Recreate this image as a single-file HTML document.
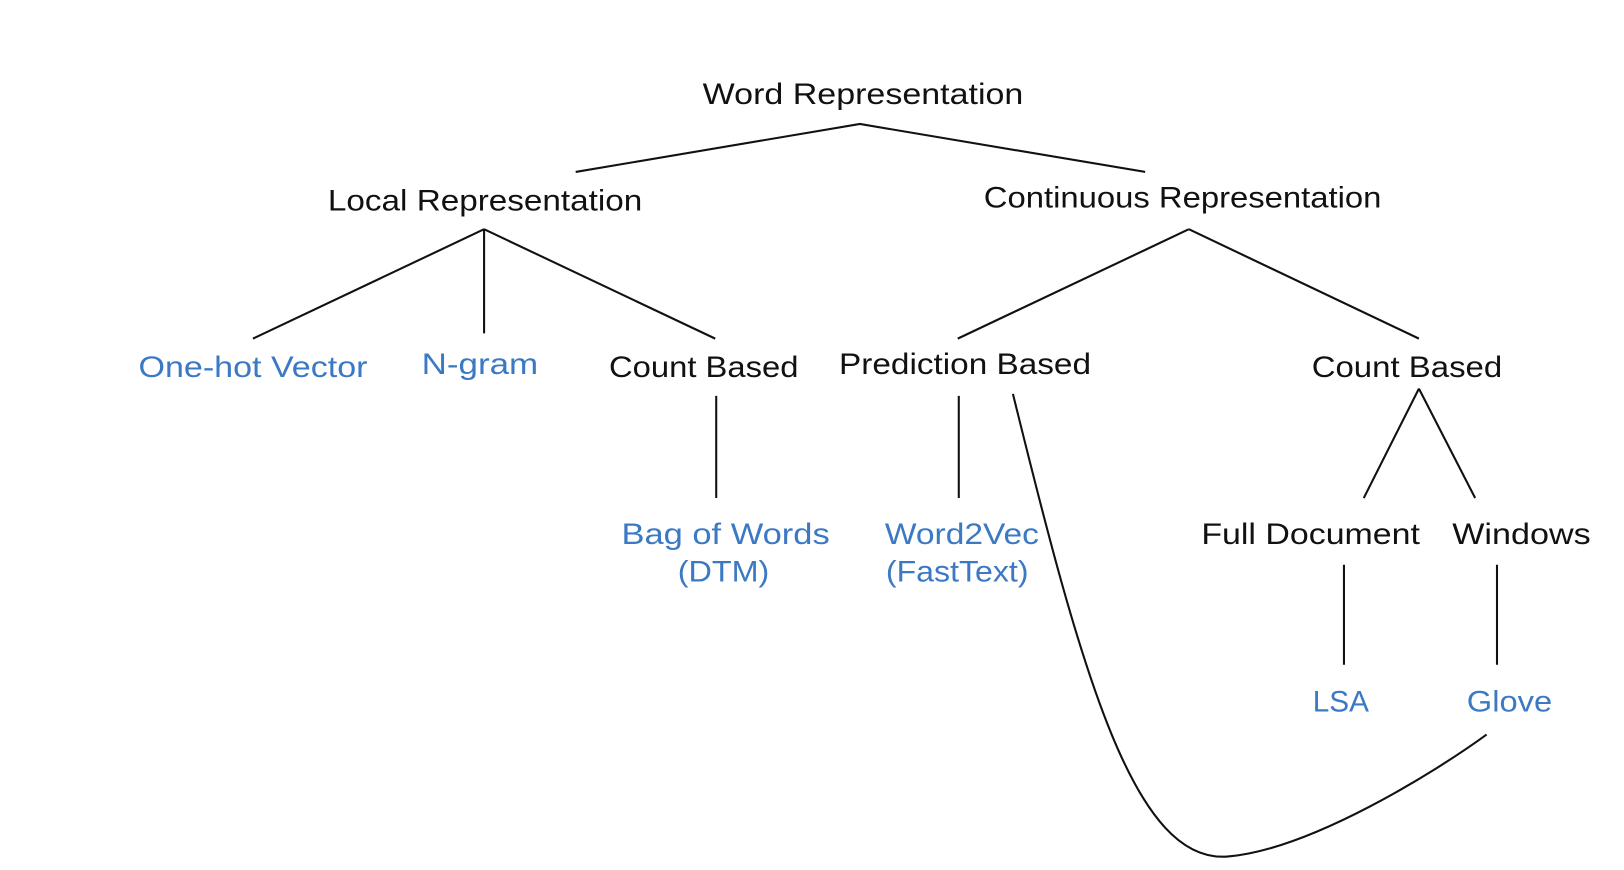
<!DOCTYPE html>
<html><head><style>html,body{margin:0;padding:0;background:#fff;}svg{display:block}</style></head>
<body>
<svg width="1624" height="870" viewBox="0 0 1560 835" preserveAspectRatio="none" xmlns="http://www.w3.org/2000/svg">
<g stroke="#111" stroke-width="2" fill="none">
<polyline points="553,165 826,119 1100,165"/>
<line x1="465" y1="220" x2="243" y2="325"/>
<line x1="465" y1="220" x2="465" y2="320"/>
<line x1="465" y1="220" x2="687" y2="325"/>
<line x1="1142" y1="220" x2="920" y2="325"/>
<line x1="1142" y1="220" x2="1363" y2="325"/>
<line x1="688" y1="380" x2="688" y2="478"/>
<line x1="921" y1="380" x2="921" y2="478"/>
<line x1="1363" y1="373" x2="1310" y2="478"/>
<line x1="1363" y1="373" x2="1417" y2="478"/>
<line x1="1291" y1="542" x2="1291" y2="638"/>
<line x1="1438" y1="542" x2="1438" y2="638"/>
<path d="M973,378 C1040,650 1090,830 1180,822 C1260,815 1380,740 1428,705"/>
</g>
<g font-family="Liberation Sans, sans-serif" font-size="28" fill="#111" lengthAdjust="spacingAndGlyphs">
<text x="675" y="100" textLength="308" lengthAdjust="spacingAndGlyphs">Word Representation</text>
<text x="315" y="202" textLength="302" lengthAdjust="spacingAndGlyphs">Local Representation</text>
<text x="945" y="199" textLength="382" lengthAdjust="spacingAndGlyphs">Continuous Representation</text>
<text x="585" y="362" textLength="182" lengthAdjust="spacingAndGlyphs">Count Based</text>
<text x="806" y="359" textLength="242" lengthAdjust="spacingAndGlyphs">Prediction Based</text>
<text x="1260" y="362" textLength="183" lengthAdjust="spacingAndGlyphs">Count Based</text>
<text x="1154" y="522" textLength="210" lengthAdjust="spacingAndGlyphs">Full Document</text>
<text x="1395" y="522" textLength="133" lengthAdjust="spacingAndGlyphs">Windows</text>
</g>
<g font-family="Liberation Sans, sans-serif" font-size="28" fill="#3b79c4">
<text x="133" y="362" textLength="220" lengthAdjust="spacingAndGlyphs">One-hot Vector</text>
<text x="405" y="359" textLength="112" lengthAdjust="spacingAndGlyphs">N-gram</text>
<text x="597" y="522" textLength="200" lengthAdjust="spacingAndGlyphs">Bag of Words</text>
<text x="651" y="558" textLength="88" lengthAdjust="spacingAndGlyphs">(DTM)</text>
<text x="850" y="522" textLength="148" lengthAdjust="spacingAndGlyphs">Word2Vec</text>
<text x="851" y="558" textLength="137" lengthAdjust="spacingAndGlyphs">(FastText)</text>
<text x="1261" y="683" textLength="54" lengthAdjust="spacingAndGlyphs">LSA</text>
<text x="1409" y="683" textLength="82" lengthAdjust="spacingAndGlyphs">Glove</text>
</g>
</svg>
</body></html>
